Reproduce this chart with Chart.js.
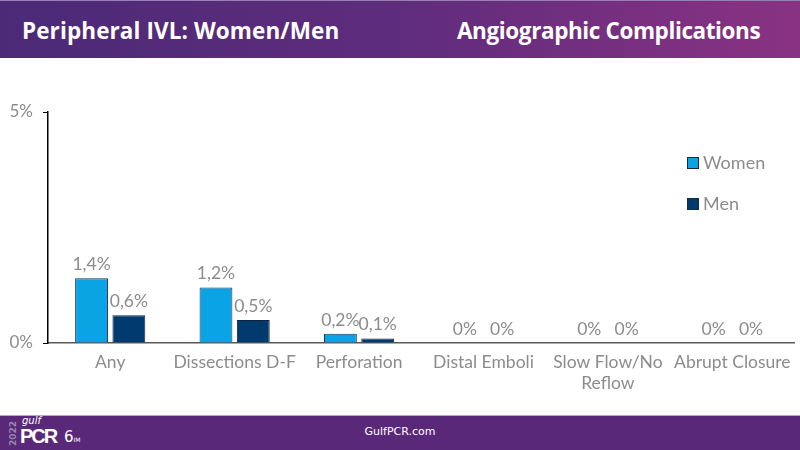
<!DOCTYPE html>
<html>
<head>
<meta charset="utf-8">
<script src="https://cdn.jsdelivr.net/npm/chart.js@4/dist/chart.umd.min.js"></script>
<style>
  html, body { margin:0; padding:0; width:800px; height:450px; overflow:hidden; background:#fff; font-family: Lato, "Open Sans", sans-serif; }
  #header { position:absolute; left:0; top:0; width:800px; height:58px;
    background: linear-gradient(90deg, #4b2a78 0%, #5f2c7c 50%, #8a3283 100%); border-top:1px solid #9a7fb4; box-sizing:border-box; }
  #header .t { position:absolute; top:14px; color:#fff; font-weight:bold; font-size:22.5px; font-family: "Open Sans", Lato, sans-serif; letter-spacing:-0.4px; }
  #footer { position:absolute; left:0; top:415px; width:800px; height:35px; background:#5a2878; border-top:1px solid #b9a8c9; box-sizing:border-box; }
  #footer .url { position:absolute; left:0; width:800px; top:9px; text-align:center; color:#fff; font-size:11px; font-family:"DejaVu Sans", sans-serif; }
  #wrap { position:absolute; left:0; top:58px; width:800px; height:357px; }
</style>
</head>
<body>
<div id="header">
  <div class="t" style="left:22px;letter-spacing:0.1px;">Peripheral IVL: Women/Men</div>
  <div class="t" style="left:457px;">Angiographic Complications</div>
</div>
<div id="wrap"><canvas id="c"></canvas></div>
<div id="footer">
  <div style="position:absolute;left:8px;color:#9a86ad;font-size:9px;font-weight:bold;transform:rotate(-90deg);transform-origin:0 0;top:30px;font-family:'DejaVu Sans',sans-serif;">2022</div>
  <div style="position:absolute;left:22px;top:-1px;color:#fff;font-size:10px;font-style:italic;font-family:'DejaVu Sans',sans-serif;">gulf</div>
  <div style="position:absolute;left:20px;top:9px;color:#fff;font-size:20px;font-weight:bold;letter-spacing:-2px;font-family:'Liberation Sans',sans-serif;">PCR</div>
  <div style="position:absolute;left:64px;top:12px;color:#fff;font-size:15px;font-family:'DejaVu Sans',sans-serif;">6<span style="font-size:6px;">IM</span></div>
  <div class="url">GulfPCR.com</div>
</div>
<script>
const categories = ["Any", "Dissections D-F", "Perforation", "Distal Emboli", ["Slow Flow/No", "Reflow"], "Abrupt Closure"];
const women = [1.4, 1.2, 0.2, 0, 0, 0];
const men = [0.6, 0.5, 0.1, 0, 0, 0];
const yTicks = [0, 5];
const seriesNames = ["Women", "Men"];

const GRAY = '#8c8c8c';
const FONT = 'Lato, "Open Sans", sans-serif';

const labelPlugin = {
  id: 'valLabels',
  afterDatasetsDraw(chart) {
    const ctx = chart.ctx;
    ctx.save();
    ctx.font = '17.5px ' + FONT;
    ctx.fillStyle = GRAY;
    ctx.textAlign = 'center';
    ctx.textBaseline = 'bottom';
    chart.data.datasets.forEach((ds, di) => {
      const meta = chart.getDatasetMeta(di);
      meta.data.forEach((el, i) => {
        const v = ds.data[i];
        const txt = String(v).replace('.', ',') + '%';
        ctx.fillText(txt, el.x, el.y - 5);
      });
    });
    // legend
    const lx = 687, ly = [99, 140];
    ctx.textAlign = 'left';
    ctx.textBaseline = 'middle';
    ctx.font = '18px ' + FONT;
    chart.data.datasets.forEach((ds, di) => {
      ctx.fillStyle = ds.backgroundColor;
      ctx.fillRect(lx, ly[di], 12, 12);
      ctx.strokeStyle = '#1a2a3a';
      ctx.lineWidth = 1;
      ctx.strokeRect(lx + 0.5, ly[di] + 0.5, 11, 11);
      ctx.fillStyle = GRAY;
      ctx.fillText(ds.label, lx + 16, ly[di] + 6);
    });
    ctx.restore();
  }
};

new Chart(document.getElementById('c'), {
  type: 'bar',
  data: {
    labels: categories,
    datasets: [
      { label: seriesNames[0], data: women, backgroundColor: '#0aa3e3', borderColor: '#1b3550', borderWidth: 1 },
      { label: seriesNames[1], data: men, backgroundColor: '#013a6e', borderColor: '#0e2440', borderWidth: 1 }
    ]
  },
  options: {
    responsive: true,
    maintainAspectRatio: false,
    animation: false,
    layout: { padding: { top: 54, right: 5, left: 0, bottom: 12 } },
    plugins: { legend: { display: false }, tooltip: { enabled: false } },
    datasets: { bar: { categoryPercentage: 0.6, barPercentage: 0.88 } },
    scales: {
      x: {
        grid: { display: false, drawTicks: false },
        border: { color: '#595959', width: 1.5 },
        ticks: { color: GRAY, font: { size: 17.5, family: FONT }, padding: 9, maxRotation: 0, autoSkip: false }
      },
      y: {
        min: 0, max: 5,
        afterBuildTicks(axis) { axis.ticks = yTicks.map(v => ({ value: v })); },
        afterFit(axis) { axis.width = 48; },
        grid: { drawOnChartArea: false, drawTicks: true, tickLength: 5, color: '#000' },
        border: { color: '#000', width: 1.5 },
        ticks: { color: GRAY, font: { size: 17, family: FONT }, padding: 10, callback: v => v + '%' }
      }
    }
  },
  plugins: [labelPlugin]
});
</script>
</body>
</html>
